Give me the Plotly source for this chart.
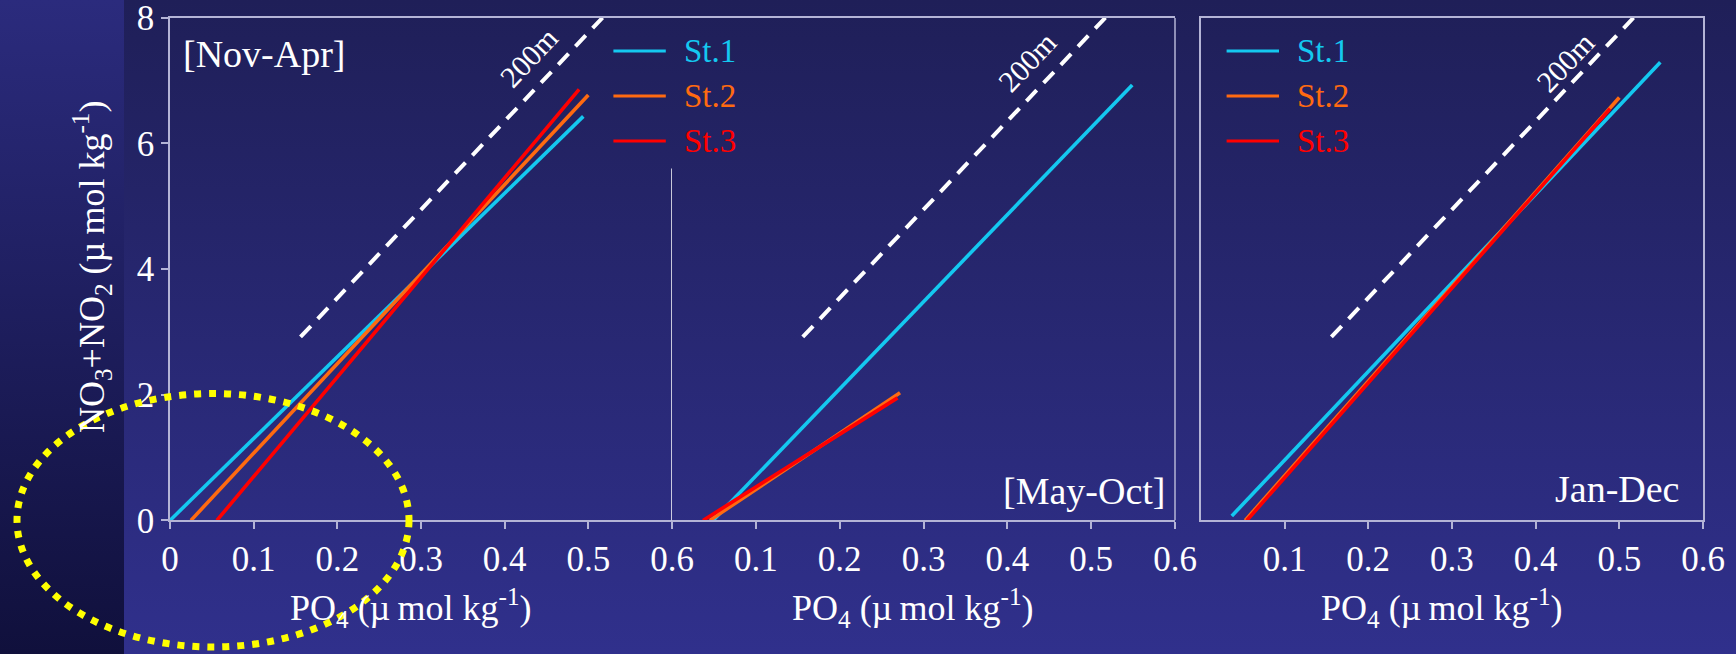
import base64
import plotly.graph_objects as go

W, H = 1736, 654

# ---------------- data ----------------
stations = ["St.1", "St.2", "St.3"]
station_colors = ["#14c8f0", "#ff6a10", "#ff0000"]

# [Nov-Apr] regression lines (PO4, NO3+NO2)
novapr_st1_po4 = [0.000, 0.494]
novapr_st1_no3 = [0.00, 6.43]
novapr_st2_po4 = [0.025, 0.500]
novapr_st2_no3 = [0.00, 6.77]
novapr_st3_po4 = [0.056, 0.489]
novapr_st3_no3 = [0.00, 6.86]

# [May-Oct]
mayoct_st1_po4 = [0.049, 0.549]
mayoct_st1_no3 = [0.00, 6.93]
mayoct_st2_po4 = [0.045, 0.272]
mayoct_st2_no3 = [0.00, 2.03]
mayoct_st3_po4 = [0.037, 0.269]
mayoct_st3_no3 = [0.00, 1.95]

# Jan-Dec
jandec_st1_po4 = [0.037, 0.549]
jandec_st1_no3 = [0.07, 7.29]
jandec_st2_po4 = [0.053, 0.500]
jandec_st2_no3 = [0.00, 6.73]
jandec_st3_po4 = [0.055, 0.489]
jandec_st3_no3 = [0.00, 6.55]

# 200 m reference line
ref200_po4 = [0.156, 0.517]
ref200_no3 = [2.92, 8.00]
ref200_label = "200m"
ref200_label_pos = [(0.429, 7.36), (0.423, 7.29), (0.435, 7.29)]

panel_labels = ["[Nov-Apr]", "[May-Oct]", "Jan-Dec"]
x_ticks_p1 = [0, 0.1, 0.2, 0.3, 0.4, 0.5, 0.6]
x_ticks_p23 = [0.1, 0.2, 0.3, 0.4, 0.5, 0.6]
y_ticks = [0, 2, 4, 6, 8]

x_title = "PO<sub>4</sub> (µ\u2009mol kg<sup>-1</sup>)"
y_title = "NO<sub>3</sub>+NO<sub>2</sub> (µ\u2009mol kg<sup>-1</sup>)"

panels = [
    ([novapr_st1_po4, novapr_st2_po4, novapr_st3_po4],
     [novapr_st1_no3, novapr_st2_no3, novapr_st3_no3]),
    ([mayoct_st1_po4, mayoct_st2_po4, mayoct_st3_po4],
     [mayoct_st1_no3, mayoct_st2_no3, mayoct_st3_no3]),
    ([jandec_st1_po4, jandec_st2_po4, jandec_st3_po4],
     [jandec_st1_no3, jandec_st2_no3, jandec_st3_no3]),
]

# ---------------- layout helpers ----------------
FONT = "Liberation Serif, Times New Roman, serif"
AXC = "#b4b4d6"

def px(x):
    return x / W

def py(y):
    return 1 - y / H

x_dom = [[px(170), px(672)], [px(672), px(1175)], [px(1200.8), px(1703)]]
y_dom = [py(520.4), py(17.7)]
xrefs = ["x", "x2", "x3"]
yrefs = ["y", "y", "y3"]

fig = go.Figure()

for p, (xs, ys) in enumerate(panels):
    for i, name in enumerate(stations):
        fig.add_trace(go.Scatter(
            x=xs[i], y=ys[i], mode="lines", name=name, showlegend=False,
            line=dict(color=station_colors[i], width=3.6),
            xaxis=xrefs[p], yaxis=yrefs[p], hoverinfo="skip"))
    fig.add_trace(go.Scatter(
        x=ref200_po4, y=ref200_no3, mode="lines", showlegend=False,
        line=dict(color="white", width=4, dash="15px,10px"),
        xaxis=xrefs[p], yaxis=yrefs[p], hoverinfo="skip"))

axis_common = dict(
    showgrid=False, zeroline=False, showline=True, linecolor=AXC, linewidth=1.5,
    ticks="outside", ticklen=7, tickwidth=1.5, tickcolor=AXC,
    tickfont=dict(family=FONT, size=35, color="white"), fixedrange=True,
    ticklabeloverflow="allow", automargin=False,
)

fig.update_layout(
    template="none",
    xaxis=dict(domain=x_dom[0], range=[0, 0.6], anchor="y", mirror=True,
               tickvals=x_ticks_p1, ticktext=[f"{v:g}" for v in x_ticks_p1], **axis_common),
    xaxis2=dict(domain=x_dom[1], range=[0, 0.6], anchor="y", mirror=True,
                tickvals=x_ticks_p23, ticktext=[f"{v:g}" for v in x_ticks_p23], **axis_common),
    xaxis3=dict(domain=x_dom[2], range=[0, 0.6], anchor="y3", mirror=True,
                tickvals=x_ticks_p23, ticktext=[f"{v:g}" for v in x_ticks_p23], **axis_common),
    yaxis=dict(domain=y_dom, range=[0, 8], anchor="x",
               tickvals=y_ticks, ticktext=[str(v) for v in y_ticks], **axis_common),
    yaxis3=dict(domain=y_dom, range=[0, 8], anchor="x3", mirror=True, automargin=False,
                showgrid=False, zeroline=False, showline=True, linecolor=AXC, linewidth=1.5,
                ticks="", showticklabels=False, fixedrange=True),
)

svg = f'''<svg xmlns="http://www.w3.org/2000/svg" width="{W}" height="{H}" viewBox="0 0 {W} {H}" preserveAspectRatio="none">
<defs>
<linearGradient id="a" x1="0" y1="0" x2="0" y2="1"><stop offset="0" stop-color="#1f1f58"/><stop offset="1" stop-color="#30308c"/></linearGradient>
<linearGradient id="b" x1="0" y1="0" x2="0" y2="1"><stop offset="0" stop-color="#2b2b7d"/><stop offset="1" stop-color="#10103c"/></linearGradient>
</defs>
<rect x="0" y="0" width="{W}" height="{H}" fill="url(#a)"/>
<rect x="0" y="0" width="124" height="{H}" fill="url(#b)"/>
</svg>'''
src = "data:image/svg+xml;base64," + base64.b64encode(svg.encode()).decode()

shapes = [
    dict(type="line", xref="x2 domain", yref="y", x0=1, x1=1, y0=0, y1=8,
         line=dict(color=AXC, width=1.5)),
    dict(type="line", xref="x", yref="y", x0=0.6, x1=0.6, y0=0, y1=5.6,
         line=dict(color="white", width=1.5)),
    dict(type="circle", xref="paper", yref="paper",
         x0=px(17), x1=px(409), y0=py(647), y1=py(393.5),
         line=dict(color="#ffff00", width=7, dash="7px,8px"), layer="above"),
]

annotations = []
for lx0, lx1, tx in [(613.4, 665.8, 682), (1226.6, 1279, 1295)]:
    for i, name in enumerate(stations):
        yy = [50.9, 95.9, 141][i]
        shapes.append(dict(type="line", xref="paper", yref="paper",
                           x0=px(lx0), x1=px(lx1), y0=py(yy), y1=py(yy),
                           line=dict(color=station_colors[i], width=3)))
        annotations.append(dict(text=name, xref="paper", yref="paper", x=px(tx), y=py(yy),
                                xanchor="left", yanchor="middle", showarrow=False,
                                font=dict(family=FONT, size=33, color=station_colors[i])))

annotations.append(dict(text=panel_labels[0], xref="paper", yref="paper", x=px(181), y=py(54),
                        xanchor="left", yanchor="middle", showarrow=False,
                        font=dict(family=FONT, size=38, color="white")))
annotations.append(dict(text=panel_labels[1], xref="paper", yref="paper", x=px(1167), y=py(491),
                        xanchor="right", yanchor="middle", showarrow=False,
                        font=dict(family=FONT, size=38, color="white")))
annotations.append(dict(text=panel_labels[2], xref="paper", yref="paper", x=px(1681), y=py(489),
                        xanchor="right", yanchor="middle", showarrow=False,
                        font=dict(family=FONT, size=38, color="white")))

for p, (lx, ly) in enumerate(ref200_label_pos):
    annotations.append(dict(text=ref200_label, xref=xrefs[p], yref=yrefs[p], x=lx, y=ly,
                            textangle=-46.7, showarrow=False,
                            font=dict(family=FONT, size=30, color="white")))

for p in range(3):
    annotations.append(dict(text=x_title,
                            xref=f"{xrefs[p]} domain", yref="paper", x=0.48, y=py(608),
                            xanchor="center", yanchor="middle", showarrow=False,
                            font=dict(family=FONT, size=36, color="white")))
annotations.append(dict(text=y_title,
                        xref="paper", yref="paper", x=px(92), y=py(267), textangle=-90,
                        xanchor="center", yanchor="middle", showarrow=False,
                        font=dict(family=FONT, size=36, color="white")))

fig.update_layout(
    width=W, height=H, autosize=False,
    margin=dict(l=0, r=0, t=0, b=0, pad=0),
    paper_bgcolor="#26266e", plot_bgcolor="rgba(0,0,0,0)",
    showlegend=False,
    images=[dict(source=src, xref="paper", yref="paper", x=0, y=1, sizex=1, sizey=1,
                 xanchor="left", yanchor="top", sizing="stretch", layer="below")],
    shapes=shapes,
    annotations=annotations,
)

fig.write_html("out.html", config={"displayModeBar": False},
               post_script=["document.body.style.margin='0';document.body.style.overflow='hidden';"])
